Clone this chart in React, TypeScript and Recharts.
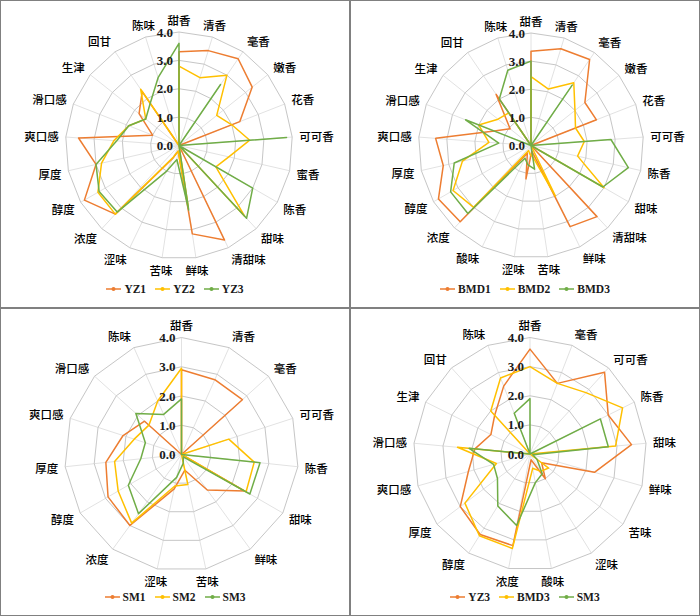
import { Legend, PolarAngleAxis, PolarGrid, PolarRadiusAxis, Radar, RadarChart } from "recharts";

const ORANGE = "#ED7D31";
const YELLOW = "#FFC000";
const GREEN = "#70AD47";

// panel 1: YZ samples
const yzAttrs = ["甜香", "清香", "毫香", "嫩香", "花香", "可可香", "蜜香", "陈香", "甜味", "清甜味", "鲜味", "苦味", "涩味", "浓度", "醇度", "厚度", "爽口感", "滑口感", "生津", "回甘", "陈味"];
const yz1 = [3.3, 3.5, 3.7, 3.3, 2.3, 0, 0, 0, 0, 3.7, 3.15, 0.2, 0.5, 3.3, 3.85, 3.0, 3.55, 1.0, 1.8, 2.3, 0];
const yz2 = [2.8, 2.5, 3.0, 1.7, 2.0, 2.5, 1.8, 1.5, 3.4, 0, 2.2, 0.2, 0.45, 3.3, 3.3, 2.8, 2.3, 1.9, 1.5, 2.4, 0];
const yz3 = [3.6, 0, 2.6, 0, 0, 3.8, 0, 3.0, 3.5, 0, 2.3, 0.5, 1.0, 3.2, 3.25, 3.0, 2.2, 1.9, 1.5, 1.8, 2.5];

// panel 2: BMD samples
const bmdAttrs = ["甜香", "清香", "毫香", "嫩香", "花香", "可可香", "陈香", "甜味", "清甜味", "鲜味", "苦味", "涩味", "酸味", "浓度", "醇度", "厚度", "爽口感", "滑口感", "生津", "回甘", "陈味"];
const bmd1 = [3.35, 3.6, 3.7, 2.45, 2.5, 0, 0, 0, 3.45, 3.2, 0.2, 1.2, 0.3, 3.7, 3.8, 3.2, 3.4, 1.4, 0.95, 2.2, 0];
const bmd2 = [2.45, 2.1, 2.7, 2.0, 1.7, 1.9, 1.7, 3.0, 0, 2.0, 0.4, 0.3, 0.2, 3.0, 3.2, 2.5, 1.5, 2.0, 1.5, 1.4, 0];
const bmd3 = [3.0, 0, 2.6, 0, 0, 2.85, 3.55, 2.95, 0, 0, 0.85, 0.7, 0.5, 3.3, 3.3, 2.8, 1.15, 2.5, 0, 2.0, 2.8];

// panel 3: SM samples
const smAttrs = ["甜香", "清香", "毫香", "可可香", "陈香", "甜味", "鲜味", "苦味", "涩味", "浓度", "醇度", "厚度", "爽口感", "滑口感", "陈味"];
const sm1 = [2.9, 2.8, 2.8, 0, 0, 2.5, 1.5, 0.55, 1.2, 3.0, 2.9, 2.6, 2.1, 1.7, 0];
const sm2 = [2.95, 0, 0, 1.7, 2.5, 2.55, 0, 1.05, 1.1, 2.9, 2.5, 2.3, 1.7, 1.5, 2.0];
const sm3 = [1.9, 0, 0, 0, 2.7, 2.7, 0.1, 0.3, 0.8, 2.5, 2.1, 1.4, 1.3, 2.1, 1.5];

// panel 4: the three "3" samples compared
const cmpAttrs = ["甜香", "毫香", "可可香", "陈香", "甜味", "鲜味", "苦味", "涩味", "酸味", "浓度", "醇度", "厚度", "爽口感", "滑口感", "生津", "回甘", "陈味"];
const cmpYz3 = [3.6, 2.6, 3.8, 3.0, 3.5, 2.3, 0.5, 1.0, 0.2, 3.2, 3.25, 3.0, 2.2, 1.9, 1.5, 1.8, 2.5];
const cmpBmd3 = [3.0, 2.6, 2.85, 3.55, 2.95, 0, 0.8, 0.7, 0.5, 3.3, 3.3, 2.8, 1.2, 2.5, 0, 2.0, 2.8];
const cmpSm3 = [1.9, 0, 0, 2.7, 2.7, 0.1, 0.3, 0.8, 1.0, 2.5, 2.1, 1.4, 1.3, 2.1, 0, 0, 1.5];

const radiusTicks = [0, 1, 2, 3, 4];

type Series = { name: string; values: number[]; color: string };

const serif = '"Liberation Serif", "Times New Roman", serif';
const cjk = '"Noto Sans CJK SC", sans-serif';

function Panel({ attrs, series, cx, cy, r, left, top }: {
  attrs: string[]; series: Series[]; cx: number; cy: number; r: number; left: number; top: number;
}) {
  const rows = attrs.map((name, i) => {
    const row: Record<string, string | number> = { name };
    series.forEach((s) => (row[s.name] = s.values[i]));
    return row;
  });

  const angleTick = (p: any) => {
    const dx = p.x - cx;
    const dy = p.y - cy;
    const len = Math.hypot(dx, dy) || 1;
    const ux = dx / len;
    const uy = dy / len;
    const d = r + 7;
    const anchor = Math.abs(ux) < 0.35 ? "middle" : ux > 0 ? "start" : "end";
    return (
      <text x={cx + ux * d} y={cy + uy * d + uy * 5.5} textAnchor={anchor} dominantBaseline="central"
        fontFamily={cjk} fontWeight={500} fontSize={11.5} fill="#000">
        {p.payload.value}
      </text>
    );
  };

  const radiusTick = (p: any) => (
    <text x={p.x - 6} y={p.y} textAnchor="end" dominantBaseline="central"
      fontFamily={serif} fontWeight="bold" fontSize={13} fill="#1a1a1a">
      {Number(p.payload.value).toFixed(1)}
    </text>
  );

  const legend = () => (
    <div style={{ display: "flex", justifyContent: "center", gap: 9 }}>
      {series.map((s) => (
        <span key={s.name} style={{ display: "inline-flex", alignItems: "center" }}>
          <svg width={15} height={8}>
            <line x1={0} y1={4} x2={15} y2={4} stroke={s.color} strokeWidth={1.5} />
            <circle cx={7.5} cy={4} r={2} fill={s.color} />
          </svg>
          <span style={{ marginLeft: 3, fontFamily: serif, fontWeight: "bold", fontSize: 11.5, color: "#1a1a1a" }}>
            {s.name}
          </span>
        </span>
      ))}
    </div>
  );

  return (
    <div style={{ position: "absolute", left, top, width: 350, height: 308, boxSizing: "border-box", border: "1px solid #808080" }}>
      <RadarChart width={350} height={308} data={rows} cx={cx} cy={cy} outerRadius={r}
        margin={{ top: 0, right: 0, bottom: 0, left: 0 }} style={{ position: "absolute", left: -1, top: -1 }}>
        <PolarGrid gridType="polygon" polarRadius={[]} stroke="#e2e2e2" />
        <PolarGrid gridType="polygon" radialLines={false} stroke="#c6c6c6" />
        <PolarAngleAxis dataKey="name" tick={angleTick} tickLine={false} axisLine={false} />
        <PolarRadiusAxis angle={90} domain={[0, 4]} ticks={radiusTicks} tick={radiusTick}
          axisLine={false} tickLine={false} />
        {series.map((s) => (
          <Radar key={s.name} name={s.name} dataKey={s.name} stroke={s.color} strokeWidth={1.5}
            fill="none" fillOpacity={0} strokeLinejoin="round"
            dot={{ r: 1.8, fill: s.color, stroke: s.color, strokeWidth: 0 }}
            isAnimationActive={false} />
        ))}
        <Legend content={legend} wrapperStyle={{ position: "absolute", left: 0, top: 283, bottom: "auto", width: 350 }} />
      </RadarChart>
    </div>
  );
}

export default function App() {
  return (
    <div style={{ position: "relative", width: 700, height: 616, background: "#fff" }}>
      <style>{"body{margin:0}"}</style>
      <Panel attrs={yzAttrs} cx={179} cy={145.5} r={113.5} left={0} top={0} series={[
        { name: "YZ1", values: yz1, color: ORANGE },
        { name: "YZ2", values: yz2, color: YELLOW },
        { name: "YZ3", values: yz3, color: GREEN },
      ]} />
      <Panel attrs={bmdAttrs} cx={181} cy={145.5} r={112.5} left={350} top={0} series={[
        { name: "BMD1", values: bmd1, color: ORANGE },
        { name: "BMD2", values: bmd2, color: YELLOW },
        { name: "BMD3", values: bmd3, color: GREEN },
      ]} />
      <Panel attrs={smAttrs} cx={181.5} cy={146.5} r={117} left={0} top={308} series={[
        { name: "SM1", values: sm1, color: ORANGE },
        { name: "SM2", values: sm2, color: YELLOW },
        { name: "SM3", values: sm3, color: GREEN },
      ]} />
      <Panel attrs={cmpAttrs} cx={180} cy={146} r={116.5} left={350} top={308} series={[
        { name: "YZ3", values: cmpYz3, color: ORANGE },
        { name: "BMD3", values: cmpBmd3, color: YELLOW },
        { name: "SM3", values: cmpSm3, color: GREEN },
      ]} />
    </div>
  );
}
